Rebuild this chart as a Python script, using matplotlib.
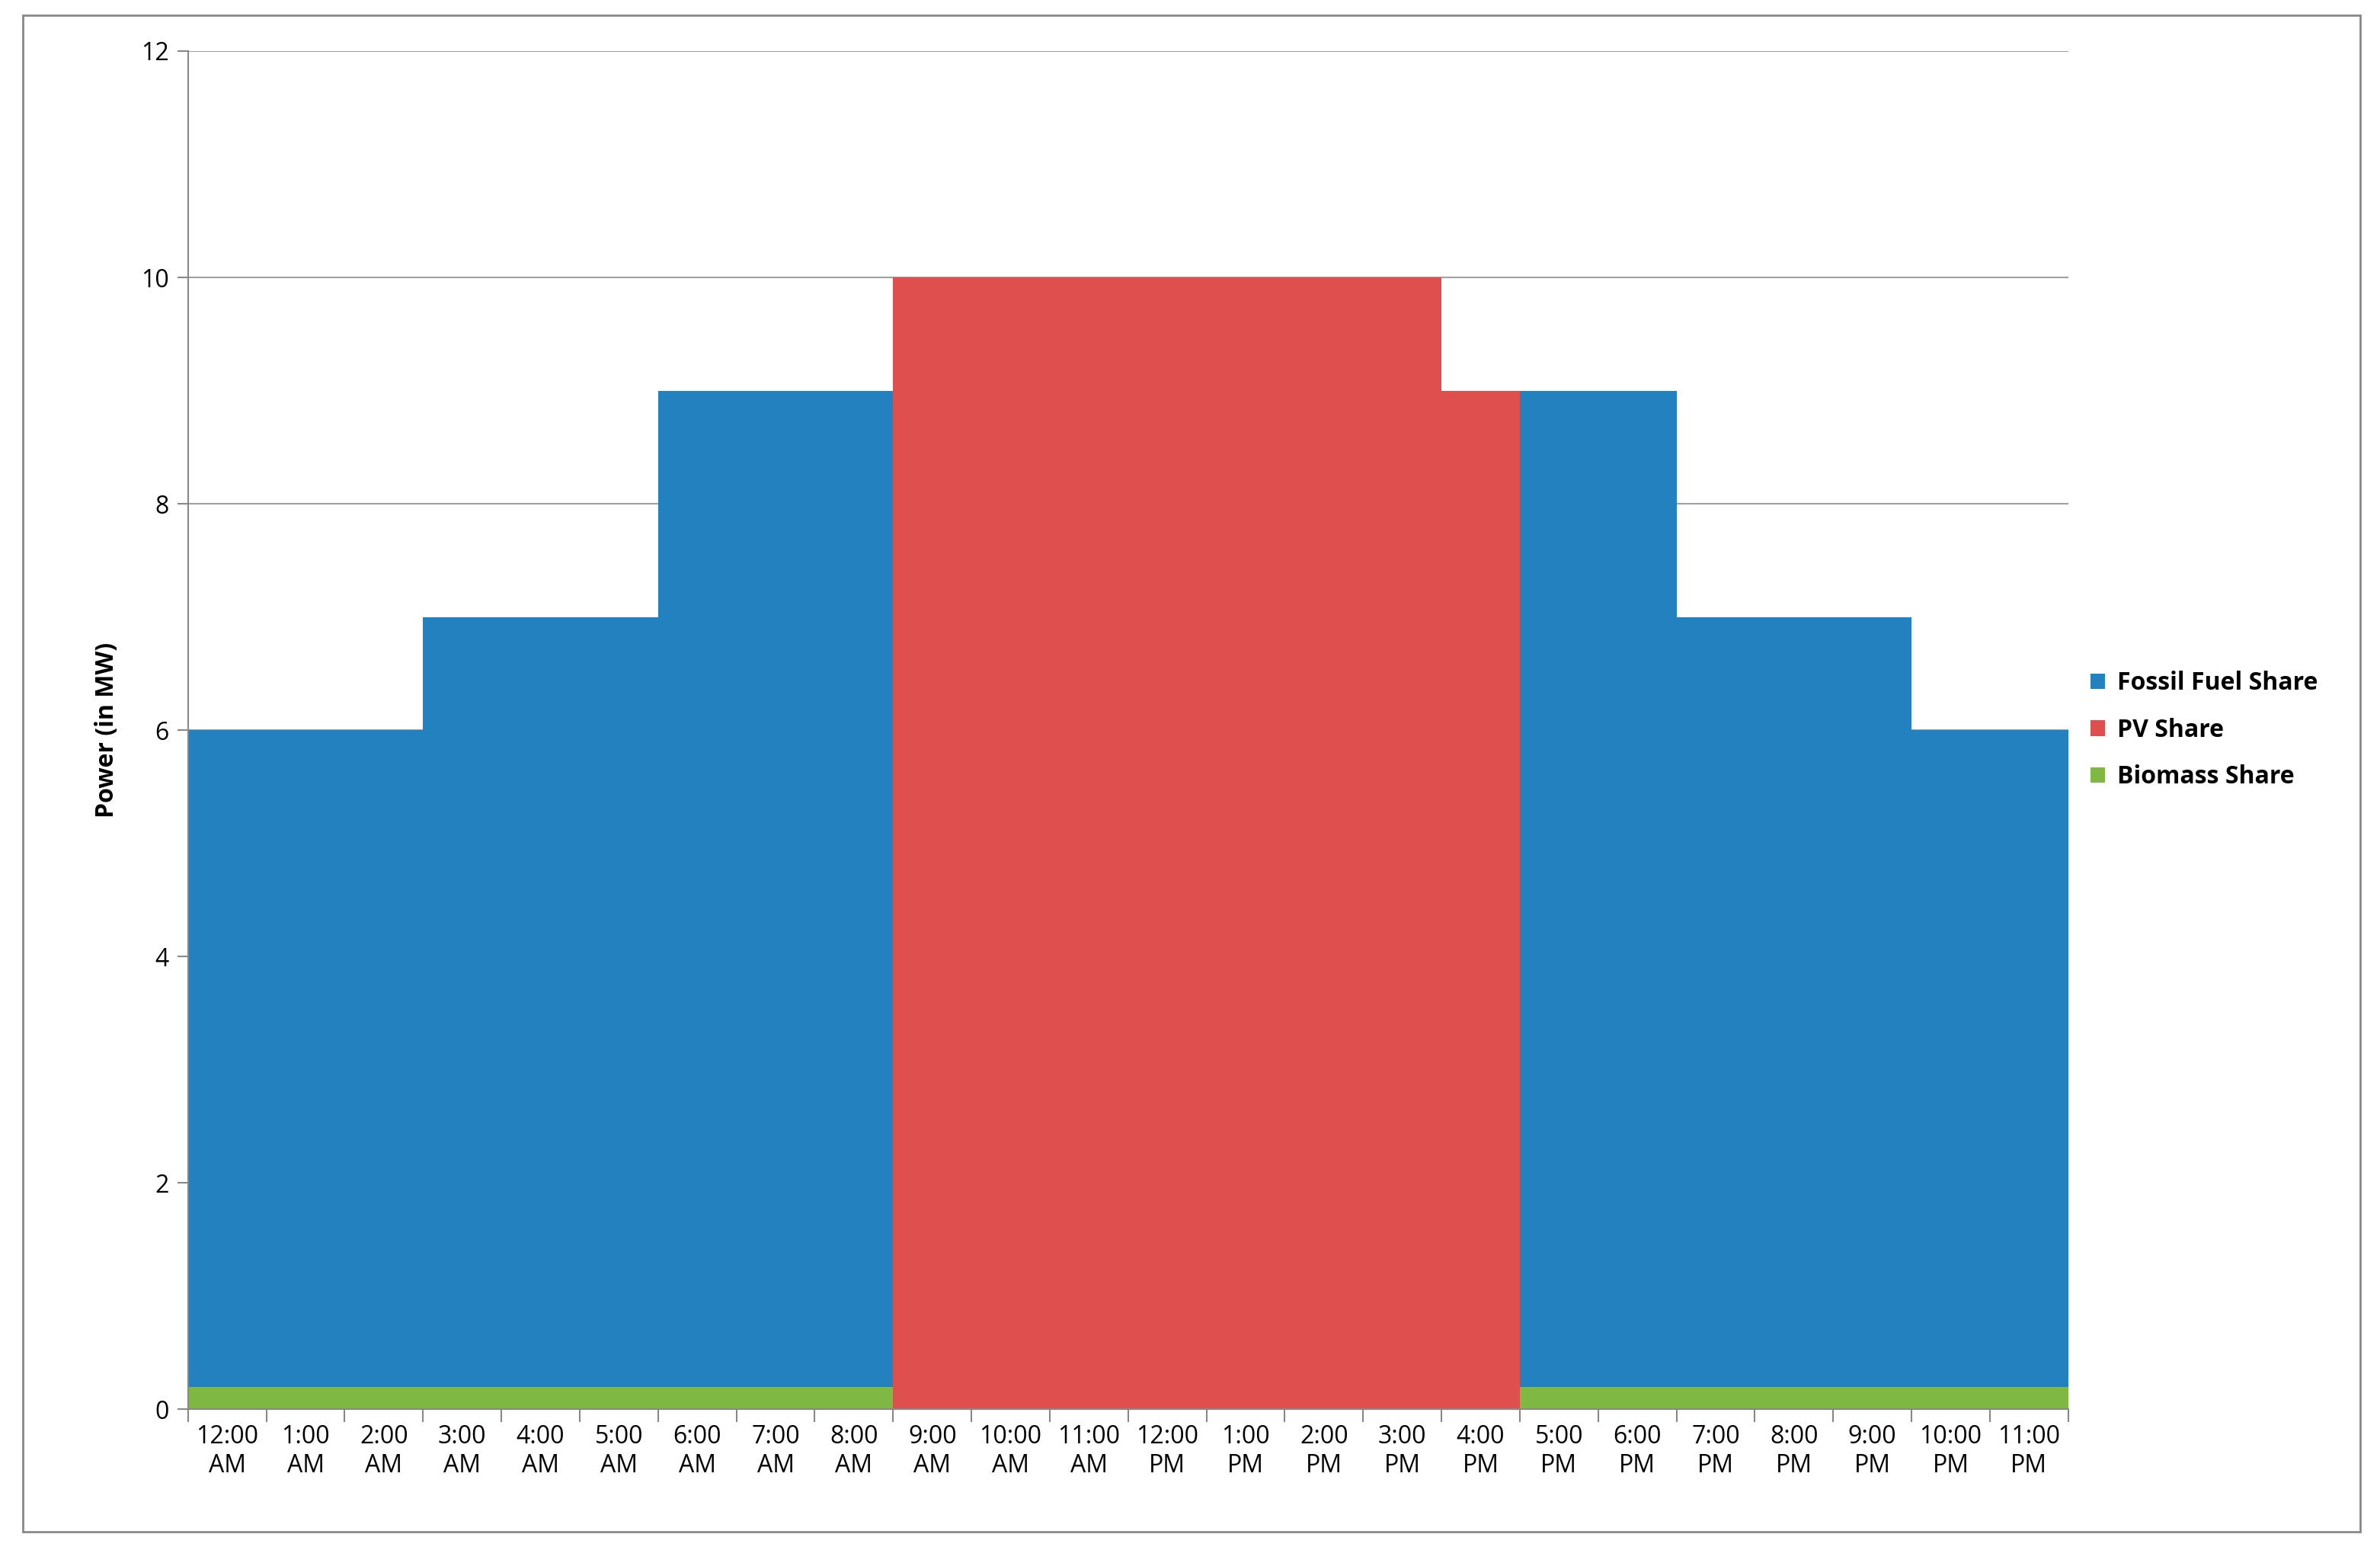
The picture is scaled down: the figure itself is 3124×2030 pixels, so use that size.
import matplotlib
matplotlib.use("Agg")
import matplotlib.pyplot as plt
from matplotlib.patches import Rectangle
import numpy as np

plt.rcParams['font.family'] = ['Open Sans', 'DejaVu Sans']

hours = ["12:00\nAM","1:00\nAM","2:00\nAM","3:00\nAM","4:00\nAM","5:00\nAM","6:00\nAM","7:00\nAM","8:00\nAM",
         "9:00\nAM","10:00\nAM","11:00\nAM","12:00\nPM","1:00\nPM","2:00\nPM","3:00\nPM","4:00\nPM",
         "5:00\nPM","6:00\nPM","7:00\nPM","8:00\nPM","9:00\nPM","10:00\nPM","11:00\nPM"]
biomass = [0.2]*9 + [0]*8 + [0.2]*7
fossil = [5.8,5.8,5.8,6.8,6.8,6.8,8.8,8.8,8.8] + [0]*8 + [8.8,8.8,6.8,6.8,6.8,5.8,5.8]
pv = [0]*9 + [10,10,10,10,10,10,10,9] + [0]*7

c_fossil = "#2481C0"; c_pv = "#DE4F4D"; c_bio = "#7FB843"

fig = plt.figure(figsize=(31.24, 20.30), dpi=100)
fig.patches.append(Rectangle((0.0096, 0.01), 0.982, 0.98, transform=fig.transFigure,
                             fill=False, edgecolor="#888888", linewidth=2))
ax = fig.add_axes([0.079, 0.089, 0.79, 0.878])
x = np.arange(len(hours))
ax.bar(x, biomass, width=1.0, align='edge', color=c_bio, label="Biomass Share", linewidth=0)
ax.bar(x, fossil, width=1.0, align='edge', bottom=biomass, color=c_fossil, label="Fossil Fuel Share", linewidth=0)
ax.bar(x, pv, width=1.0, align='edge', bottom=np.array(biomass)+np.array(fossil), color=c_pv, label="PV Share", linewidth=0)

ax.set_xlim(0, 24)
ax.set_ylim(0, 12)
ax.set_yticks(range(0, 13, 2))
ax.yaxis.grid(True, color="#A0A0A0", linewidth=1.5)
ax.set_axisbelow(True)
ax.set_xticks(x + 0.5)
ax.set_xticklabels(hours, fontsize=23)
ax.set_xticks(np.arange(0, 25), minor=True)
ax.tick_params(axis='x', which='major', length=0, pad=14)
ax.tick_params(axis='x', which='minor', length=12, width=1.5, color="#888888")
ax.tick_params(axis='y', labelsize=23, length=10, width=1.5, color="#888888", pad=8)
for s in ['top', 'right']:
    ax.spines[s].set_visible(False)
for s in ['left', 'bottom']:
    ax.spines[s].set_color("#888888"); ax.spines[s].set_linewidth(1.5)
ax.set_ylabel("Power (in MW)", fontsize=23, fontweight='bold', labelpad=20)

h, l = ax.get_legend_handles_labels()
order = [1, 2, 0]
leg = ax.legend([h[i] for i in order], [l[i] for i in order], loc='center left',
                bbox_to_anchor=(1.0, 0.5), frameon=False, handlelength=0.6, handleheight=0.6,
                prop={'size': 23, 'weight': 'bold'}, labelspacing=0.9, handletextpad=0.5)

fig.savefig("out.png", dpi=100)
